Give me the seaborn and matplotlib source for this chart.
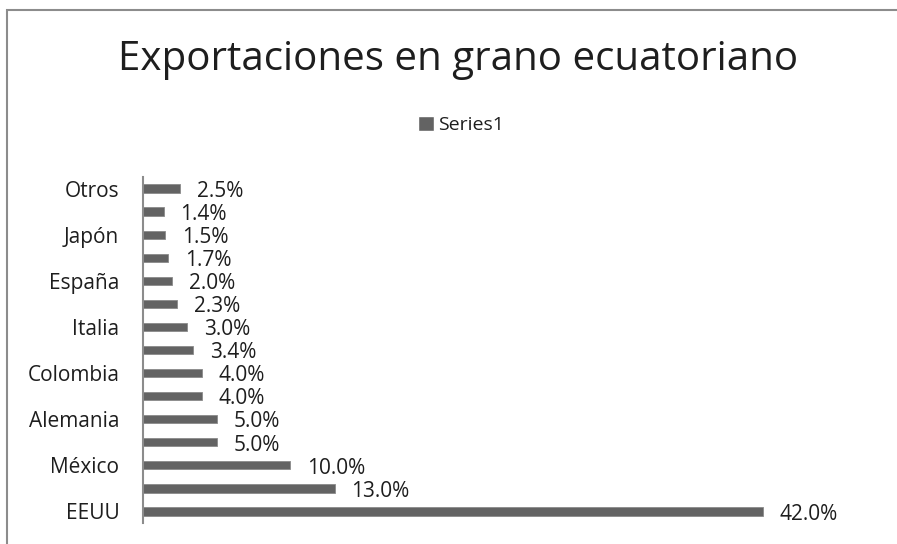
import matplotlib
matplotlib.use('AGG')
import matplotlib.pyplot as plt
import seaborn as sns
import pandas as pd
from matplotlib.patches import Rectangle, Patch

# Data (top to bottom as drawn)
paises = ['Otros', 'Perú', 'Japón', 'Canadá', 'España', 'China', 'Italia',
          'Bélgica', 'Colombia', 'Indonesia', 'Alemania', 'Malasia',
          'México', 'Holanda', 'EEUU']
valores = [2.5, 1.4, 1.5, 1.7, 2.0, 2.3, 3.0, 3.4, 4.0, 4.0, 5.0, 5.0,
           10.0, 13.0, 42.0]
# only every other category name is printed on the axis
etiquetas_visibles = ['Otros', 'Japón', 'España', 'Italia', 'Colombia',
                      'Alemania', 'México', 'EEUU']

df = pd.DataFrame({'pais': paises, 'valor': valores})

sns.set_style("white")
plt.rcParams['font.family'] = ['Open Sans', 'DejaVu Sans']

BAR = '#636363'
TXT = '#1e1e1e'

fig = plt.figure(figsize=(8.97, 5.44), dpi=100)
ax = fig.add_axes([0.1594, 0.0386, 0.740, 0.636])

sns.barplot(data=df, x='valor', y='pais', order=paises, color=BAR,
            saturation=1, width=0.36, ax=ax, edgecolor='#8a8a8a', linewidth=0.6)

ax.set_xlim(0, 45)
ax.set_xticks([])
ax.set_xlabel('')
ax.set_ylabel('')
ax.set_yticks(range(len(paises)))
ax.set_yticklabels([p if p in etiquetas_visibles else '' for p in paises],
                   fontsize=15, color=TXT)
ax.tick_params(axis='y', length=0, pad=17)
for s in ['top', 'right', 'bottom']:
    ax.spines[s].set_visible(False)
ax.spines['left'].set_color('#8c8c8c')
ax.spines['left'].set_linewidth(1.5)

for i, v in enumerate(valores):
    ax.annotate(f'{v:.1f}%', xy=(v, i), xytext=(12, -2),
                textcoords='offset points', va='center', ha='left',
                fontsize=15, color=TXT)

fig.text(0.511, 0.89, 'Exportaciones en grano ecuatoriano', ha='center',
         va='center', fontsize=29, color=TXT)

leg = fig.legend(handles=[Patch(facecolor=BAR, label='Series1')],
                 loc='center', bbox_to_anchor=(0.514, 0.77), frameon=False,
                 fontsize=14, handlelength=0.8, handleheight=0.8,
                 handletextpad=0.2)
for t in leg.get_texts():
    t.set_color(TXT)

# outer chart frame
fig.patches.append(Rectangle((7 / 897, -0.1), 1.2, 1.1 - 10 / 544,
                             transform=fig.transFigure, fill=False,
                             edgecolor='#8c8c8c', linewidth=1.5))

plt.savefig('out.png', dpi=100)
